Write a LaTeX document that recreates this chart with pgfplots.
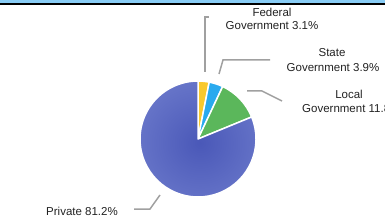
\documentclass[border=0pt]{standalone}
\usepackage{pgfplots}
\usepackage{pgfplotstable}
\pgfplotsset{compat=1.18}
\usepackage{fontspec}
\setmainfont{Liberation Sans}
\definecolor{fedc}{HTML}{F9C92E}
\definecolor{statec}{HTML}{2AAAEE}
\definecolor{localc}{HTML}{5BB75B}
\definecolor{privc}{HTML}{4A58B8}
\definecolor{privedge}{HTML}{6674C8}
\definecolor{leader}{HTML}{A0A0A0}
\definecolor{topband}{HTML}{88CCF5}
\definecolor{txt}{HTML}{222222}
\pgfplotstableread{
label value col
Federal 3.1 fedc
State 3.9 statec
Local 11.8 localc
Private 81.2 privc
}\piedata
\begin{document}
\begin{tikzpicture}
\begin{axis}[
  scale only axis, width=385pt, height=244pt,
  xmin=0, xmax=385, ymin=0, ymax=244,
  hide axis, clip=true,
]
\fill[topband] (axis cs:0,241) rectangle (axis cs:385,244);
\fill[black] (axis cs:0,239) rectangle (axis cs:385,241);
\def\cum{0}
\pgfplotsforeachungrouped \i in {0,...,3}{%
  \pgfplotstablegetelem{\i}{value}\of\piedata
  \let\v\pgfplotsretval
  \pgfplotstablegetelem{\i}{col}\of\piedata
  \let\c\pgfplotsretval
  \pgfmathsetmacro{\a}{90-3.6*\cum}
  \pgfmathsetmacro{\b}{90-3.6*(\cum+\v)}
  \pgfmathsetmacro{\cum}{\cum+\v}
  \pgfmathsetmacro{\sx}{198+58*cos(\a)}
  \pgfmathsetmacro{\sy}{105+58*sin(\a)}
  \ifnum\i=3
    \edef\temp{\noexpand\path[shading=radial, inner color=privc, outer color=privedge, draw=white, line width=1.5pt, line join=round]
      (axis cs:198,105) -- (axis cs:\sx,\sy) arc[start angle=\a, end angle=\b, radius=58pt] -- cycle;}
  \else
    \edef\temp{\noexpand\filldraw[fill=\c, draw=white, line width=1.5pt, line join=round]
      (axis cs:198,105) -- (axis cs:\sx,\sy) arc[start angle=\a, end angle=\b, radius=58pt] -- cycle;}
  \fi
  \temp
}
\draw[leader, line width=1.5pt] (axis cs:209,227) -- (axis cs:205,227) -- (axis cs:205,172);
\draw[leader, line width=1.5pt] (axis cs:219,170) -- (axis cs:223,184) -- (axis cs:270,184);
\draw[leader, line width=1.5pt] (axis cs:247,153) -- (axis cs:262,153) -- (axis cs:282,143);
\draw[leader, line width=1.5pt] (axis cs:160,49) -- (axis cs:150,35) -- (axis cs:134,35);
\begin{scope}[every node/.style={text=txt, inner sep=0pt, font=\fontsize{11.5}{14}\selectfont}]
\node at (axis cs:272,232) {Federal};
\node at (axis cs:272,218) {Government 3.1\%};
\node at (axis cs:332,191) {State};
\node at (axis cs:333,176) {Government 3.9\%};
\node at (axis cs:349,150) {Local};
\node[anchor=west] at (axis cs:302,135) {Government 11.8\%};
\node[anchor=west] at (axis cs:46,33) {Private 81.2\%};
\end{scope}
\end{axis}
\end{tikzpicture}
\end{document}
